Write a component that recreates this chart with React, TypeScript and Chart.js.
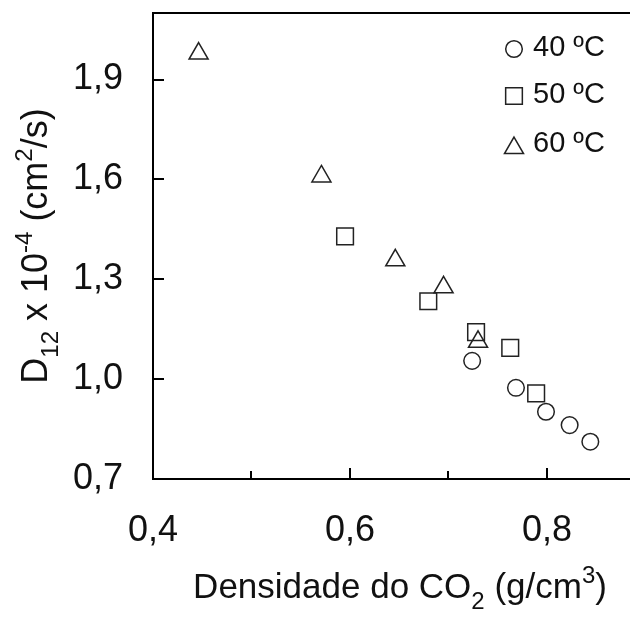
import React, { useEffect, useRef } from "react";
import { Chart, registerables } from "chart.js";
import { drawPoint } from "chart.js/helpers";

Chart.register(...registerables);

// ---- Data ----
const series40Label = "40 ºC";
const series40X = [0.724, 0.7685, 0.799, 0.823, 0.844];
const series40Y = [1.055, 0.974, 0.902, 0.862, 0.812];

const series50Label = "50 ºC";
const series50X = [0.595, 0.6795, 0.728, 0.7627, 0.789];
const series50Y = [1.429, 1.234, 1.141, 1.094, 0.957];

const series60Label = "60 ºC";
const series60X = [0.4463, 0.571, 0.646, 0.695, 0.730];
const series60Y = [1.978, 1.609, 1.357, 1.276, 1.112];

const xTickValues = [0.4, 0.5, 0.6, 0.7, 0.8];
const xLabeledTicks = [0.4, 0.6, 0.8];
const yTickValues = [0.7, 1.0, 1.3, 1.6, 1.9];
const xMin = 0.4;
const xMax = 0.8924;
const yMin = 0.7;
const yMax = 2.1;

type Part = { t: string; k: "n" | "sub" | "sup" };
const xTitleParts: Part[] = [
  { t: "Densidade do CO", k: "n" },
  { t: "2", k: "sub" },
  { t: " (g/cm", k: "n" },
  { t: "3", k: "sup" },
  { t: ")", k: "n" },
];
const yTitleParts: Part[] = [
  { t: "D", k: "n" },
  { t: "12", k: "sub" },
  { t: " x 10", k: "n" },
  { t: "-4", k: "sup" },
  { t: " (cm", k: "n" },
  { t: "2", k: "sup" },
  { t: "/s)", k: "n" },
];

const FONT = "'Liberation Sans', Arial, sans-serif";
const INK = "#111";

function fmt(v: number) {
  return v.toFixed(1).replace(".", ",");
}

function drawRich(ctx: CanvasRenderingContext2D, parts: Part[], size: number) {
  const small = Math.round(size * 0.68);
  const widths = parts.map((p) => {
    ctx.font = `${p.k === "n" ? size : small}px ${FONT}`;
    return ctx.measureText(p.t).width;
  });
  const total = widths.reduce((a, b) => a + b, 0);
  let x = -total / 2;
  ctx.textBaseline = "alphabetic";
  ctx.textAlign = "left";
  parts.forEach((p, i) => {
    ctx.font = `${p.k === "n" ? size : small}px ${FONT}`;
    const dy = p.k === "sub" ? size * 0.3 : p.k === "sup" ? -size * 0.42 : 0;
    ctx.fillText(p.t, x, dy);
    x += widths[i];
  });
}

const decorPlugin = {
  id: "decor",
  afterDraw(chart: any) {
    const { ctx, chartArea, scales } = chart;
    const { left, right, top, bottom } = chartArea;
    const xs = scales.x;
    const ys = scales.y;
    ctx.save();
    ctx.strokeStyle = "#000";
    ctx.lineWidth = 2;
    // top frame line
    ctx.beginPath();
    ctx.moveTo(left - 1, top);
    ctx.lineTo(right, top);
    ctx.stroke();
    // inward ticks
    ctx.beginPath();
    xTickValues.forEach((v) => {
      if (v === xMin) return;
      const px = Math.round(xs.getPixelForValue(v));
      const len = xLabeledTicks.includes(v) ? 11 : 8;
      ctx.moveTo(px, bottom);
      ctx.lineTo(px, bottom - len);
    });
    yTickValues.forEach((v) => {
      if (v === yMin) return;
      const py = Math.round(ys.getPixelForValue(v));
      ctx.moveTo(left, py);
      ctx.lineTo(left + 11, py);
    });
    ctx.stroke();

    // axis titles
    ctx.fillStyle = INK;
    ctx.save();
    ctx.translate(392, 590);
    drawRich(ctx, xTitleParts, 35);
    ctx.restore();
    ctx.save();
    ctx.translate(39, (top + bottom) / 2);
    ctx.rotate(-Math.PI / 2);
    drawRich(ctx, yTitleParts, 36);
    ctx.restore();

    // legend
    const ds = chart.data.datasets;
    const mx = right - 124;
    const tx = right - 105;
    const rowY = [top + 35, top + 82, top + 131];
    ds.forEach((d: any, i: number) => {
      const cy = rowY[i];
      ctx.strokeStyle = d.borderColor;
      ctx.fillStyle = "rgba(0,0,0,0)";
      ctx.lineWidth = d.borderWidth;
      const markerY = d.pointStyle === "triangle" ? cy + 4 : cy + 1;
      drawPoint(ctx, { pointStyle: d.pointStyle, radius: d.pointRadius, borderWidth: d.borderWidth, rotation: 0 } as any, mx, markerY);
      ctx.fillStyle = INK;
      ctx.font = `29px ${FONT}`;
      ctx.textAlign = "left";
      ctx.textBaseline = "middle";
      ctx.fillText(d.label, tx, cy);
    });
    ctx.restore();
  },
};

function toPoints(xs: number[], ys: number[]) {
  return xs.map((x, i) => ({ x, y: ys[i] }));
}

function zeroPad(s: any) {
  s.paddingTop = 0;
  s.paddingBottom = 0;
  s.paddingLeft = 0;
  s.paddingRight = 0;
}

export default function App() {
  const ref = useRef<HTMLCanvasElement | null>(null);
  useEffect(() => {
    if (!ref.current) return;
    const common = {
      showLine: false,
      borderColor: "#222",
      backgroundColor: "rgba(0,0,0,0)",
      borderWidth: 1.5,
    };
    const chart = new Chart(ref.current, {
      type: "scatter",
      data: {
        datasets: [
          { ...common, label: series40Label, data: toPoints(series40X, series40Y), pointStyle: "circle", pointRadius: 8.3 },
          { ...common, label: series50Label, data: toPoints(series50X, series50Y), pointStyle: "rect", pointRadius: 11.8 },
          { ...common, label: series60Label, data: toPoints(series60X, series60Y), pointStyle: "triangle", pointRadius: 11 },
        ] as any,
      },
      options: {
        animation: false,
        responsive: true,
        maintainAspectRatio: false,
        layout: { autoPadding: false, padding: { top: 5, right: 0, left: 0, bottom: 0 } },
        plugins: { legend: { display: false }, tooltip: { enabled: false } },
        scales: {
          x: {
            type: "linear",
            min: xMin,
            max: xMax,
            afterBuildTicks: (s: any) => {
              s.ticks = xTickValues.map((v) => ({ value: v }));
            },
            afterFit: (s: any) => {
              s.height = 139;
              zeroPad(s);
            },
            grid: { display: true, drawOnChartArea: false, drawTicks: false },
            border: { display: true, color: "#000", width: 2 },
            ticks: {
              padding: 30,
              color: INK,
              font: { family: FONT, size: 36 },
              maxRotation: 0,
              autoSkip: false,
              callback: (v: any) => (xLabeledTicks.some((t) => Math.abs(t - v) < 1e-6) ? fmt(v) : ""),
            },
          },
          y: {
            type: "linear",
            min: yMin,
            max: yMax,
            afterBuildTicks: (s: any) => {
              s.ticks = yTickValues.map((v) => ({ value: v }));
            },
            afterFit: (s: any) => {
              s.width = 145;
              zeroPad(s);
            },
            grid: { display: true, drawOnChartArea: false, drawTicks: false },
            border: { display: true, color: "#000", width: 2 },
            ticks: {
              padding: 30,
              color: INK,
              font: { family: FONT, size: 36 },
              autoSkip: false,
              callback: (v: any) => fmt(v),
            },
          },
        },
      } as any,
      plugins: [decorPlugin],
    });
    return () => chart.destroy();
  }, []);
  return (
    <div style={{ position: "relative", width: 630, height: 610, marginBottom: -8 }}>
      <canvas ref={ref} />
    </div>
  );
}
